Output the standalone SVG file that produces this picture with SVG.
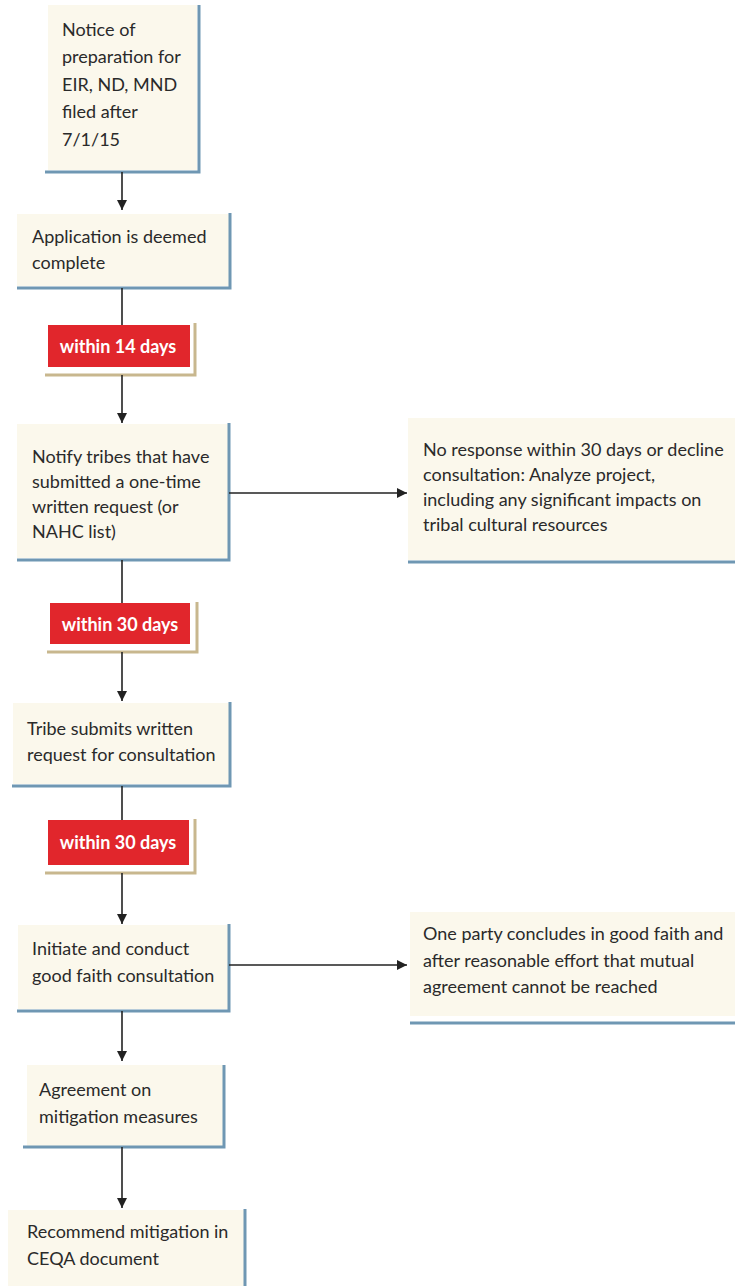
<svg xmlns="http://www.w3.org/2000/svg" width="735" height="1286" viewBox="0 0 735 1286">
<defs>
<marker id="arr" viewBox="0 0 10 10" refX="10" refY="5" markerWidth="10" markerHeight="10" markerUnits="userSpaceOnUse" orient="auto">
<path d="M0,0 L10,5 L0,10 z" fill="#222"/>
</marker>
<style>
.box{fill:#fbf8ec}
.sh{fill:none;stroke:#6f97b3;stroke-width:3}
.tsh{fill:none;stroke:#c8b78e;stroke-width:3}
.red{fill:#e1262c}
.t{font-family:Lato,"Liberation Sans",sans-serif;font-size:18px;fill:#2a2a2a}
.rt{font-family:Lato,"Liberation Sans",sans-serif;font-size:18px;font-weight:bold;fill:#ffffff;text-anchor:middle}
.c{stroke:#222;stroke-width:1.6;fill:none}
</style>
</defs>
<rect width="735" height="1286" fill="#ffffff"/>

<g id="n1">
<rect class="box" x="48" y="5" width="149" height="165"/>
<path class="sh" d="M199,5 V172 H45"/>
<text class="t" x="62"><tspan x="62" y="36">Notice of</tspan><tspan x="62" y="63">preparation for</tspan><tspan x="62" y="91">EIR, ND, MND</tspan><tspan x="62" y="118">filed after</tspan><tspan x="62" y="146">7/1/15</tspan></text>
</g>

<g id="n2">
<rect class="box" x="17" y="214" width="212" height="72"/>
<path class="sh" d="M230,213 V288 H17"/>
<text class="t"><tspan x="32" y="243">Application is deemed</tspan><tspan x="32" y="269">complete</tspan></text>
</g>

<g id="r1">
<path class="tsh" d="M195,323 V375 H45"/>
<rect class="red" x="48" y="325" width="142" height="42"/>
<text class="rt" x="118" y="353">within 14 days</text>
</g>

<g id="n3">
<rect class="box" x="17" y="424" width="211" height="134"/>
<path class="sh" d="M229,423 V560 H17"/>
<text class="t"><tspan x="32" y="463">Notify tribes that have</tspan><tspan x="32" y="488">submitted a one-time</tspan><tspan x="32" y="513">written request (or</tspan><tspan x="32" y="538">NAHC list)</tspan></text>
</g>

<g id="n4">
<rect class="box" x="408" y="418" width="327" height="142"/>
<path class="sh" d="M408,562 H735"/>
<text class="t"><tspan x="423" y="456">No response within 30 days or decline</tspan><tspan x="423" y="481">consultation: Analyze project,</tspan><tspan x="423" y="506">including any significant impacts on</tspan><tspan x="423" y="531">tribal cultural resources</tspan></text>
</g>

<g id="r2">
<path class="tsh" d="M197,602 V652 H47"/>
<rect class="red" x="50" y="603" width="140" height="41"/>
<text class="rt" x="120" y="631">within 30 days</text>
</g>

<g id="n5">
<rect class="box" x="13" y="703" width="216" height="81"/>
<path class="sh" d="M230,702 V786 H12"/>
<text class="t"><tspan x="27" y="735">Tribe submits written</tspan><tspan x="27" y="761">request for consultation</tspan></text>
</g>

<g id="r3">
<path class="tsh" d="M195,819 V873 H45"/>
<rect class="red" x="48" y="820" width="141" height="45"/>
<text class="rt" x="118" y="849">within 30 days</text>
</g>

<g id="n6">
<rect class="box" x="18" y="925" width="210" height="84"/>
<path class="sh" d="M229,924 V1011 H17"/>
<text class="t"><tspan x="32" y="955">Initiate and conduct</tspan><tspan x="32" y="982">good faith consultation</tspan></text>
</g>

<g id="n7">
<rect class="box" x="410" y="912" width="325" height="104"/>
<path class="sh" d="M410,1023 H735"/>
<text class="t"><tspan x="423" y="940">One party concludes in good faith and</tspan><tspan x="423" y="967">after reasonable effort that mutual</tspan><tspan x="423" y="993">agreement cannot be reached</tspan></text>
</g>

<g id="n8">
<rect class="box" x="27" y="1065" width="196" height="81"/>
<path class="sh" d="M224,1065 V1147 H23"/>
<text class="t"><tspan x="39" y="1096">Agreement on</tspan><tspan x="39" y="1123">mitigation measures</tspan></text>
</g>

<g id="n9">
<rect class="box" x="8" y="1210" width="236" height="76"/>
<path class="sh" d="M245,1209 V1286"/>
<text class="t"><tspan x="27" y="1238">Recommend mitigation in</tspan><tspan x="27" y="1265">CEQA document</tspan></text>
</g>

<g id="connectors">
<path class="c" d="M122,172 V210" marker-end="url(#arr)"/>
<path class="c" d="M122,288 V325"/>
<path class="c" d="M122,375 V423" marker-end="url(#arr)"/>
<path class="c" d="M229,493 H407" marker-end="url(#arr)"/>
<path class="c" d="M122,560 V603"/>
<path class="c" d="M122,652 V701" marker-end="url(#arr)"/>
<path class="c" d="M122,786 V820"/>
<path class="c" d="M122,873 V924" marker-end="url(#arr)"/>
<path class="c" d="M229,965 H407" marker-end="url(#arr)"/>
<path class="c" d="M122,1011 V1061" marker-end="url(#arr)"/>
<path class="c" d="M122,1147 V1208" marker-end="url(#arr)"/>
</g>
</svg>
